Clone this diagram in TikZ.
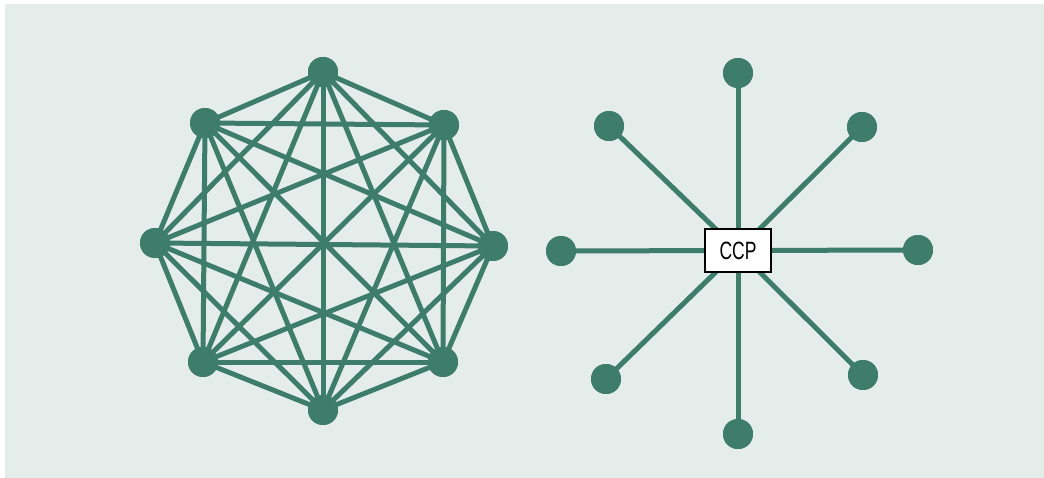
\documentclass[tikz,border=0pt]{standalone}
\usepackage{fontspec}
\setmainfont{Liberation Sans}
\usepackage{graphicx}
\definecolor{bgc}{HTML}{E4EDEA}
\definecolor{grn}{HTML}{3D7D69}
\begin{document}
\begin{tikzpicture}[x=1pt,y=-1pt,
  dot/.style={circle,fill=grn,minimum size=30pt,inner sep=0pt},
  link/.style={draw=grn,line width=5pt},
  ccpbox/.style={draw=black,fill=white,line width=1.6pt,minimum width=66pt,minimum height=43pt,inner sep=0pt}]
\useasboundingbox (0,0) rectangle (1044,478);
\fill[bgc] (5,4) rectangle (1044,478);
% complete graph
\node[dot] (a1) at (323,72) {};
\node[dot] (a2) at (444,125) {};
\node[dot] (a3) at (493,246) {};
\node[dot] (a4) at (443,362) {};
\node[dot] (a5) at (323,410) {};
\node[dot] (a6) at (203,362) {};
\node[dot] (a7) at (155,243) {};
\node[dot] (a8) at (205,123) {};
\foreach \i in {1,...,8}{
  \foreach \j in {1,...,8}{
    \ifnum\i<\j
      \draw[link] (a\i.center) -- (a\j.center);
    \fi
  }
}
\foreach \i in {1,...,8}{\node[dot] at (a\i) {};}
% star
\coordinate (c) at (738,250.5);
\node[dot] (b1) at (738,73) {};
\node[dot] (b2) at (862,127) {};
\node[dot] (b3) at (918,250) {};
\node[dot] (b4) at (863,375) {};
\node[dot] (b5) at (738,434) {};
\node[dot] (b6) at (606,379) {};
\node[dot] (b7) at (561,251) {};
\node[dot] (b8) at (609,126) {};
\foreach \i in {1,...,8}{\draw[link] (c) -- (b\i.center);}
\foreach \i in {1,...,8}{\node[dot] at (b\i) {};}
\node[ccpbox] (ccp) at (c) {\fontsize{25}{25}\selectfont\scalebox{0.7}[1]{CCP}};
\end{tikzpicture}
\end{document}
